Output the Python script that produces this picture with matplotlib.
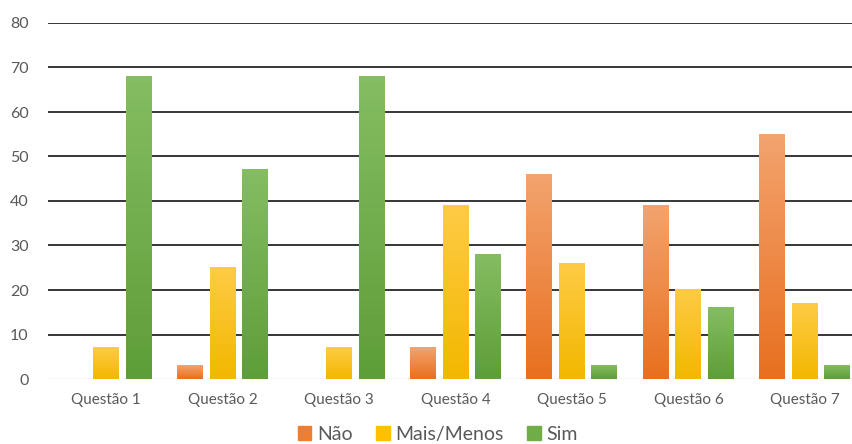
import numpy as np
import matplotlib
matplotlib.use("Agg")
import matplotlib.pyplot as plt
from matplotlib.colors import LinearSegmentedColormap
from matplotlib.patches import Patch

plt.rcParams['font.family'] = ['Lato', 'DejaVu Sans']

categories = ["Questão 1", "Questão 2", "Questão 3", "Questão 4",
              "Questão 5", "Questão 6", "Questão 7"]
series_names = ["Não", "Mais/Menos", "Sim"]
nao = [0, 3, 0, 7, 46, 39, 55]
mais_menos = [7, 25, 7, 39, 26, 20, 17]
sim = [68, 47, 68, 28, 3, 16, 3]
yticks = [0, 10, 20, 30, 40, 50, 60, 70, 80]

# (top colour, bottom colour, legend colour)
colours = [("#F3A36E", "#E8701F", "#ED7D31"),
           ("#FFCB45", "#F2B800", "#FFC000"),
           ("#84BD62", "#5E9E38", "#70AD47")]

fig = plt.figure(figsize=(8.52, 4.44), dpi=100)
ax = fig.add_axes([48 / 852, 65 / 444, 804 / 852, 356 / 444])

width = 0.223
step = 0.279
x = np.arange(len(categories))
grad = np.linspace(0, 1, 64).reshape(-1, 1)

for i, (vals, (top, bot, _)) in enumerate(zip([nao, mais_menos, sim], colours)):
    cmap = LinearSegmentedColormap.from_list("g%d" % i, [bot, top])
    for xi, v in zip(x, vals):
        if v <= 0:
            continue
        xc = xi + (i - 1) * step
        ax.imshow(grad, cmap=cmap, origin="lower", aspect="auto",
                  extent=(xc - width / 2, xc + width / 2, 0, v), zorder=3)

for t in yticks[1:]:
    ax.axhline(t, color="#262626", lw=1.3, zorder=1)
ax.axhline(0, color="#D9D9D9", lw=1.0, zorder=2)

ax.set_xlim(-0.5, 6.405)
ax.set_ylim(0, 80)
ax.set_yticks(yticks)
ax.set_xticks(x)
ax.set_xticklabels(categories)
ax.tick_params(length=0, colors="#595959")
ax.tick_params(axis="y", pad=14, labelsize=11.5)
ax.tick_params(axis="x", pad=10, labelsize=11)
for s in ax.spines.values():
    s.set_visible(False)

handles = [Patch(color=c[2], label=n) for n, c in zip(series_names, colours)]
fig.legend(handles=handles, loc="center", bbox_to_anchor=(438 / 852, 1 - 434 / 444),
           ncol=3, frameon=False, fontsize=14, handlelength=0.7, handleheight=0.7,
           handletextpad=0.3, columnspacing=1.2, labelcolor="#595959")

fig.savefig("out.png", dpi=100)
